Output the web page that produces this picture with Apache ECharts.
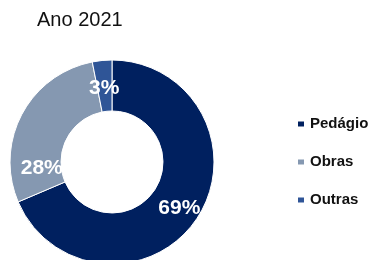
<!DOCTYPE html>
<html>
<head>
<meta charset="utf-8">
<script src="https://cdn.jsdelivr.net/npm/echarts@6/dist/echarts.min.js"></script>
<style>
  html, body { margin: 0; padding: 0; background: #fff; }
  #chart { width: 368px; height: 260px; }
</style>
</head>
<body>
<div id="chart"></div>
<script>
// dados do gráfico
const categories = ['Pedágio', 'Obras', 'Outras'];
const values = [68.6, 28.3, 3.1];
const labels = ['69%', '28%', '3%'];
const colors = ['#00205F', '#8598B1', '#2F5597'];

// ajuste da posição dos rótulos (como no Excel)
const labelShift = [[1, 2], [0, 43], [0, 5]];

const chart = echarts.init(document.getElementById('chart'));
chart.setOption({
    animation: false,
    title: {
        text: 'Ano 2021',
        left: 37,
        top: 10,
        padding: 0,
        textStyle: {
            fontFamily: 'Liberation Sans, Arial, sans-serif',
            fontSize: 20,
            fontWeight: 'normal',
            color: '#111'
        }
    },
    legend: {
        orient: 'vertical',
        left: 296,
        top: 115,
        padding: 0,
        itemWidth: 8,
        itemHeight: 7,
        itemGap: 20,
        icon: 'rect',
        data: categories,
        textStyle: {
            fontFamily: 'Liberation Sans, Arial, sans-serif',
            fontSize: 15,
            fontWeight: 'bold',
            color: '#111',
            lineHeight: 18
        }
    },
    series: [{
        type: 'pie',
        center: [112, 162],
        radius: [51, 102],
        startAngle: 90,
        clockwise: true,
        itemStyle: { borderColor: '#fff', borderWidth: 1 },
        label: {
            show: true,
            position: 'inside',
            color: '#fff',
            fontFamily: 'Liberation Sans, Arial, sans-serif',
            fontSize: 21,
            fontWeight: 'bold',
            formatter: p => labels[p.dataIndex]
        },
        labelLayout: p => ({ dx: labelShift[p.dataIndex][0], dy: labelShift[p.dataIndex][1] }),
        data: categories.map((c, i) => ({
            name: c,
            value: values[i],
            itemStyle: { color: colors[i] }
        }))
    }]
});
</script>
</body>
</html>
